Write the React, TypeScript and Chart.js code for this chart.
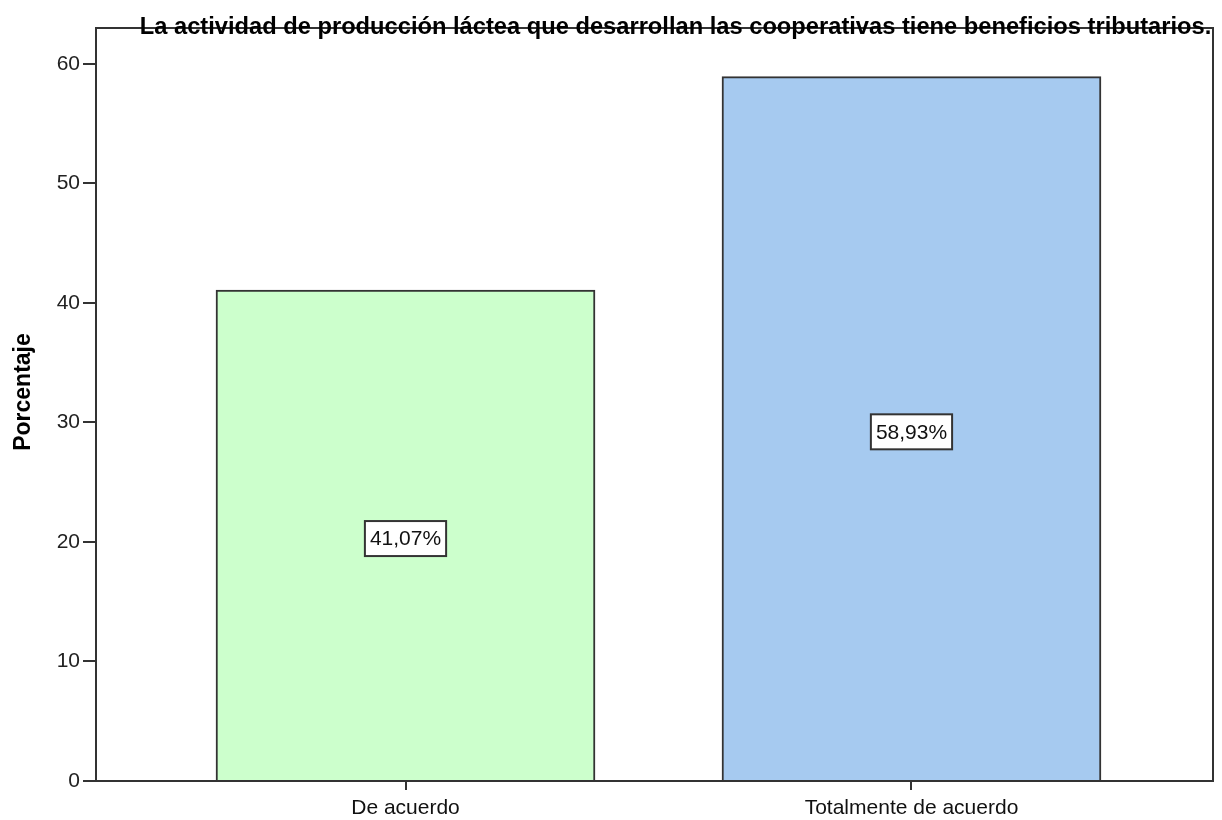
import React, { useEffect, useRef } from "react";
import { Chart, registerables } from "chart.js";

Chart.register(...registerables);

const title = "La actividad de producción láctea que desarrollan las cooperativas tiene beneficios tributarios.";
const categories = ["De acuerdo", "Totalmente de acuerdo"];
const percentages = [41.07, 58.93];
const valueLabels = ["41,07%", "58,93%"];
const barColors = ["#CCFFCC", "#A6CAF0"];
const yTicks = [0, 10, 20, 30, 40, 50, 60];
const yAxisTitle = "Porcentaje";

const FONT = "Arial, 'Liberation Sans', sans-serif";

const frameAndLabels = {
  id: "frameAndLabels",
  afterDatasetsDraw(chart: any) {
    const ctx = chart.ctx;
    const a = chart.chartArea;
    ctx.save();
    const meta = chart.getDatasetMeta(0);
    meta.data.forEach((bar: any, i: number) => {
      const cx = bar.x;
      const cy = (bar.y + bar.base) / 2 + 3.5;
      ctx.font = `21px ${FONT}`;
      const w = ctx.measureText(valueLabels[i]).width + 10;
      const h = 35;
      ctx.fillStyle = "#ffffff";
      ctx.fillRect(cx - w / 2, cy - h / 2, w, h);
      ctx.strokeStyle = "#333333";
      ctx.lineWidth = 2;
      ctx.strokeRect(cx - w / 2, cy - h / 2, w, h);
      ctx.fillStyle = "#111111";
      ctx.textAlign = "center";
      ctx.textBaseline = "middle";
      ctx.fillText(valueLabels[i], cx, cy + 1);
    });
    // frame
    ctx.strokeStyle = "#333333";
    ctx.lineWidth = 2;
    ctx.strokeRect(a.left, a.top, a.right - a.left, a.bottom - a.top);
    // chart title
    ctx.font = `bold 23.7px ${FONT}`;
    ctx.fillStyle = "#000000";
    ctx.textAlign = "center";
    ctx.textBaseline = "alphabetic";
    ctx.fillText(title, 675.5, 34);
    // y axis title
    ctx.save();
    ctx.translate(24, 392);
    ctx.rotate(-Math.PI / 2);
    ctx.font = `bold 23px ${FONT}`;
    ctx.textAlign = "center";
    ctx.textBaseline = "middle";
    ctx.fillText(yAxisTitle, 0, 0);
    ctx.restore();
    ctx.restore();
  },
};

export default function App() {
  const ref = useRef<HTMLCanvasElement | null>(null);
  useEffect(() => {
    if (!ref.current) return;
    const chart = new Chart(ref.current, {
      type: "bar",
      data: {
        datasets: [
          {
            data: percentages.map((v, i) => ({ x: i, y: v })),
            backgroundColor: barColors,
            borderColor: "#333333",
            borderWidth: 2,
            barThickness: 379,
          },
        ],
      },
      options: {
        responsive: false,
        animation: false,
        layout: { padding: { top: 28, right: 9, left: 0, bottom: 0 } },
        plugins: {
          legend: { display: false },
          tooltip: { enabled: false },
          title: { display: false },
        },
        scales: {
          x: {
            type: "linear",
            offset: false,
            min: -0.6117,
            max: 1.5959,
            afterBuildTicks: (s: any) => {
              s.ticks = categories.map((_, i) => ({ value: i }));
            },
            afterFit: (s: any) => {
              s.height = 39;
            },
            ticks: {
              callback: (v: any) => categories[v] ?? "",
              color: "#111111",
              font: { family: FONT, size: 21 },
              padding: 6,
              maxRotation: 0,
              autoSkip: false,
            },
            grid: {
              offset: false,
              drawOnChartArea: false,
              drawTicks: true,
              tickLength: 9,
              color: "#333333",
              lineWidth: 2,
            },
            border: { display: true, color: "#333333", width: 2 },
          },
          y: {
            min: 0,
            max: 63,
            afterBuildTicks: (s: any) => {
              s.ticks = yTicks.map((v) => ({ value: v }));
            },
            afterFit: (s: any) => {
              s.width = 96;
            },
            ticks: {
              color: "#222222",
              font: { family: FONT, size: 21 },
              padding: 3,
            },
            grid: {
              drawOnChartArea: false,
              drawTicks: true,
              tickLength: 13,
              color: "#333333",
              lineWidth: 2,
            },
            border: { display: true, color: "#333333", width: 2 },
            title: { display: false },
          },
        },
      } as any,
      plugins: [frameAndLabels],
    });
    return () => chart.destroy();
  }, []);
  return (
    <canvas
      ref={ref}
      width={1222}
      height={820}
      style={{ position: "absolute", left: 0, top: 0, width: 1222, height: 820 }}
    />
  );
}
